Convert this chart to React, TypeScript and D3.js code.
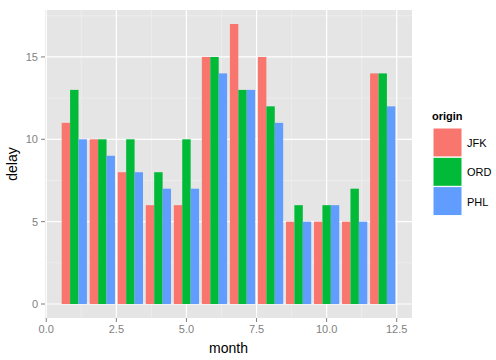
// Dodged bar chart of monthly delay per origin airport, ggplot2 look
import React from 'react';
import * as d3 from 'd3';

const months = [1, 2, 3, 4, 5, 6, 7, 8, 9, 10, 11, 12];
const origins = ['JFK', 'ORD', 'PHL'];
const jfkDelay = [11, 10, 8, 6, 6, 15, 17, 15, 5, 5, 5, 14];
const ordDelay = [13, 10, 10, 8, 10, 15, 13, 12, 6, 6, 7, 14];
const phlDelay = [10, 9, 8, 7, 7, 14, 13, 11, 5, 6, 5, 12];
const xTicks = [0, 2.5, 5, 7.5, 10, 12.5];
const yTicks = [0, 5, 10, 15];

const colors = ['#F8766D', '#00BA38', '#619CFF'];

export default function App() {
  const width = 496, height = 360;
  const left = 45, right = 412, top = 10, bottom = 318;
  const series = [jfkDelay, ordDelay, phlDelay];

  const x = d3.scaleLinear().domain([-0.045, 13.045]).range([left, right]);
  const y = d3.scaleLinear().domain([-0.85, 17.85]).range([bottom, top]);

  const xMinor = d3.range(0, 5).map(i => 1.25 + i * 2.5);
  const yMinor = [2.5, 7.5, 12.5, 17.5];
  const barW = 0.3;

  return (
    <svg width={width} height={height} style={{ position: 'absolute', left: 0, top: 0, background: '#fff' }}
      fontFamily="'Liberation Sans', Arial, sans-serif">
      <rect x={left} y={top} width={right - left} height={bottom - top} fill="#E5E5E5" />
      {xMinor.map(t => (
        <line key={'xm' + t} x1={x(t)} x2={x(t)} y1={top} y2={bottom} stroke="#F2F2F2" strokeWidth={0.6} />
      ))}
      {yMinor.map(t => (
        <line key={'ym' + t} x1={left} x2={right} y1={y(t)} y2={y(t)} stroke="#F2F2F2" strokeWidth={0.6} />
      ))}
      {xTicks.map(t => (
        <line key={'xg' + t} x1={x(t)} x2={x(t)} y1={top} y2={bottom} stroke="#fff" strokeWidth={1.2} />
      ))}
      {yTicks.map(t => (
        <line key={'yg' + t} x1={left} x2={right} y1={y(t)} y2={y(t)} stroke="#fff" strokeWidth={1.2} />
      ))}
      {series.map((vals, si) =>
        months.map((m, i) => {
          const x0 = m - 0.45 + si * barW;
          return (
            <rect key={si + '-' + m} x={x(x0)} width={x(x0 + barW) - x(x0)}
              y={y(vals[i])} height={y(0) - y(vals[i])} fill={colors[si]} />
          );
        })
      )}
      {xTicks.map(t => (
        <g key={'xt' + t}>
          <line x1={x(t)} x2={x(t)} y1={bottom} y2={bottom + 4} stroke="#7F7F7F" />
          <text x={x(t)} y={bottom + 15} textAnchor="middle" fontSize={11} fill="#7F7F7F">{d3.format('.1f')(t)}</text>
        </g>
      ))}
      {yTicks.map(t => (
        <g key={'yt' + t}>
          <line x1={left - 4} x2={left} y1={y(t)} y2={y(t)} stroke="#7F7F7F" />
          <text x={left - 7} y={y(t) + 4} textAnchor="end" fontSize={11} fill="#7F7F7F">{t}</text>
        </g>
      ))}
      <text x={(left + right) / 2} y={353} textAnchor="middle" fontSize={14}>month</text>
      <text transform={`translate(17,${(top + bottom) / 2}) rotate(-90)`} textAnchor="middle" fontSize={14}>delay</text>
      <text x={432} y={120} fontSize={11} fontWeight="bold">origin</text>
      {origins.map((o, i) => (
        <g key={o}>
          <rect x={433} y={128 + i * 29.3} width={29} height={29} fill={colors[i]} stroke="#fff" strokeWidth={1} />
          <text x={467} y={128 + i * 29.3 + 19} fontSize={11}>{o}</text>
        </g>
      ))}
    </svg>
  );
}
